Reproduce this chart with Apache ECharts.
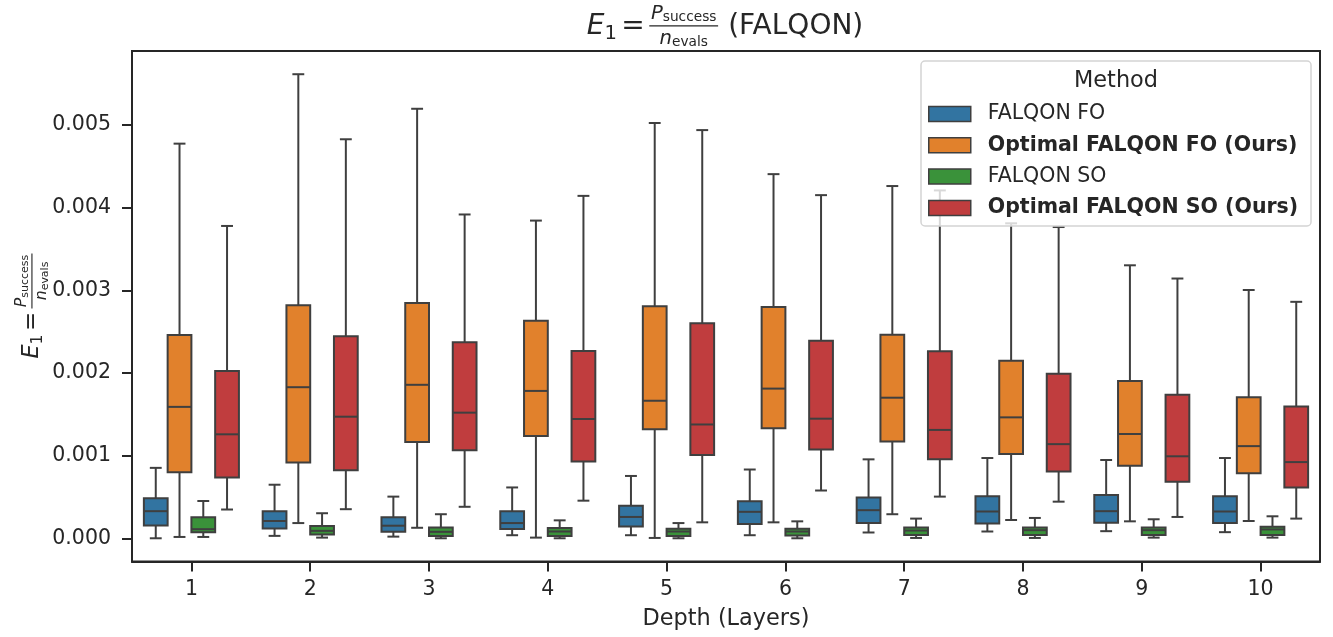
<!DOCTYPE html>
<html><head><meta charset="utf-8">
<script src="https://cdn.jsdelivr.net/npm/echarts@6/dist/echarts.min.js"></script>
<style>html,body{margin:0;padding:0;background:#fff}#c{width:1333px;height:637px}</style>
</head><body><div id="c"></div>
<script>
// ---------- data ----------
const depths = ['1','2','3','4','5','6','7','8','9','10'];
const methods = ['FALQON FO','Optimal FALQON FO (Ours)','FALQON SO','Optimal FALQON SO (Ours)'];
// each row: [min whisker, Q1, median, Q3, max whisker]
const falqonFO = [
  [0.000000,0.000156,0.000328,0.000484,0.000852],
  [0.000029,0.000119,0.000209,0.000328,0.000648],
  [0.000020,0.000078,0.000152,0.000254,0.000504],
  [0.000037,0.000111,0.000184,0.000328,0.000615],
  [0.000037,0.000143,0.000258,0.000393,0.000754],
  [0.000037,0.000172,0.000320,0.000447,0.000832],
  [0.000070,0.000184,0.000340,0.000492,0.000955],
  [0.000082,0.000180,0.000324,0.000508,0.000971],
  [0.000086,0.000189,0.000328,0.000525,0.000947],
  [0.000074,0.000184,0.000324,0.000508,0.000971]
];
const optimalFO = [
  [0.000016,0.000799,0.001590,0.002459,0.004775],
  [0.000184,0.000918,0.001828,0.002820,0.005615],
  [0.000127,0.001164,0.001857,0.002848,0.005197],
  [0.000008,0.001238,0.001783,0.002631,0.003844],
  [0.000004,0.001320,0.001664,0.002807,0.005025],
  [0.000193,0.001332,0.001811,0.002799,0.004406],
  [0.000291,0.001172,0.001701,0.002463,0.004262],
  [0.000221,0.001020,0.001463,0.002148,0.003811],
  [0.000205,0.000877,0.001262,0.001902,0.003303],
  [0.000209,0.000787,0.001115,0.001705,0.003004]
];
const falqonSO = [
  [0.000016,0.000074,0.000110,0.000254,0.000451],
  [0.000008,0.000045,0.000090,0.000148,0.000303],
  [0.000000,0.000029,0.000078,0.000131,0.000291],
  [0.000000,0.000029,0.000082,0.000123,0.000217],
  [0.000000,0.000029,0.000082,0.000115,0.000184],
  [0.000000,0.000033,0.000082,0.000115,0.000205],
  [0.000004,0.000041,0.000094,0.000131,0.000238],
  [0.000004,0.000041,0.000098,0.000131,0.000246],
  [0.000008,0.000041,0.000098,0.000131,0.000230],
  [0.000008,0.000041,0.000107,0.000139,0.000266]
];
const optimalSO = [
  [0.000348,0.000734,0.001258,0.002025,0.003779],
  [0.000352,0.000824,0.001471,0.002443,0.004828],
  [0.000381,0.001066,0.001520,0.002373,0.003918],
  [0.000455,0.000930,0.001443,0.002266,0.004143],
  [0.000193,0.001008,0.001377,0.002602,0.004939],
  [0.000578,0.001074,0.001447,0.002389,0.004152],
  [0.000504,0.000955,0.001311,0.002262,0.004209],
  [0.000443,0.000807,0.001139,0.001992,0.003766],
  [0.000258,0.000684,0.000992,0.001738,0.003143],
  [0.000238,0.000615,0.000922,0.001594,0.002861]
];
const yTicks = [0, 0.001, 0.002, 0.003, 0.004, 0.005];

// ---------- style ----------
const FONT = 'DejaVu Sans';
const TXT = '#262626';
const LINE = '#3f3f3f';
const colors = ['#3274a1','#e1812c','#3a923a','#c03d3e'];
const offsets = [-0.3,-0.1,0.1,0.3];
const Y_MIN = -0.000281, Y_MAX = 0.005896;

const mctx = document.createElement('canvas').getContext('2d');
function tw(t, size, italic){ mctx.font = (italic?'italic ':'') + size + 'px "' + FONT + '"'; return mctx.measureText(t).width; }
function txt(t, x, baseY, size, italic){
  return {type:'text', x:x, y: baseY - 0.346*size,
    style:{text:t, fontFamily:FONT, fontSize:size, fontStyle: italic?'italic':'normal', fill:TXT, align:'left', verticalAlign:'middle'}};
}
function buildFormula(fs, suffix){
  const els=[]; let x=0;
  els.push(txt('E', x, 0, fs, true)); x += tw('E', fs, true);
  const s1 = 0.7*fs;
  els.push(txt('1', x, 0.15*fs, s1, false)); x += tw('1', s1, false);
  x += 0.16*fs;
  els.push(txt('=', x, 0, fs, false)); x += tw('=', fs, false);
  x += 0.16*fs;
  const s2 = 0.7*fs, s3 = 0.49*fs;
  const nw = tw('P', s2, true) + tw('success', s3, false);
  const dw = tw('n', s2, true) + tw('evals', s3, false);
  const fw = Math.max(nw, dw) + 0.12*fs;
  const barY = -0.36*fs;
  els.push({type:'rect', x:x, y:barY-0.025*fs, shape:{x:0, y:0, width:fw, height:0.05*fs}, style:{fill:TXT}});
  let nx = x + (fw-nw)/2; const nb = -0.55*fs;
  els.push(txt('P', nx, nb, s2, true)); nx += tw('P', s2, true);
  els.push(txt('success', nx, nb+0.07*fs, s3, false));
  let dx = x + (fw-dw)/2; const db = 0.34*fs;
  els.push(txt('n', dx, db, s2, true)); dx += tw('n', s2, true);
  els.push(txt('evals', dx, db+0.07*fs, s3, false));
  x += fw;
  if (suffix){ x += 0.04*fs; els.push(txt(suffix, x, 0, fs, false)); x += tw(suffix, fs, false); }
  els.forEach(e => { e.x -= x/2; });
  return els;
}

function makeRender(offset, color){
  return function(params, api){
    const ci = api.value(0);
    const band = api.size([1,0])[0];
    const cx = api.coord([ci, 0])[0] + offset*band;
    const w = band*0.2;
    const y = [1,2,3,4,5].map(d => api.coord([ci, api.value(d)])[1]);
    const ls = {stroke:LINE, lineWidth:2};
    return {type:'group', children:[
      {type:'line', shape:{x1:cx,y1:y[1],x2:cx,y2:y[0]}, style:ls},
      {type:'line', shape:{x1:cx,y1:y[3],x2:cx,y2:y[4]}, style:ls},
      {type:'line', shape:{x1:cx-w/4,y1:y[0],x2:cx+w/4,y2:y[0]}, style:ls},
      {type:'line', shape:{x1:cx-w/4,y1:y[4],x2:cx+w/4,y2:y[4]}, style:ls},
      {type:'rect', shape:{x:cx-w/2,y:y[3],width:w,height:y[1]-y[3]}, style:{fill:color, stroke:LINE, lineWidth:2}},
      {type:'line', shape:{x1:cx-w/2,y1:y[2],x2:cx+w/2,y2:y[2]}, style:ls}
    ]};
  };
}

const seriesData = [falqonFO, optimalFO, falqonSO, optimalSO];
const chart = echarts.init(document.getElementById('c'), null, {renderer:'canvas'});
chart.setOption({
  animation:false,
  textStyle:{fontFamily:FONT},
  grid:{left:132, right:13, top:51, bottom:75.5, show:true, borderColor:TXT, borderWidth:2, backgroundColor:'transparent'},
  xAxis:{
    type:'category', data:depths, boundaryGap:true,
    axisLine:{show:true, onZero:false, lineStyle:{color:TXT, width:2}},
    axisTick:{show:true, alignWithLabel:true, length:10, lineStyle:{color:TXT, width:2}},
    axisLabel:{fontFamily:FONT, fontSize:20.5, color:TXT, margin:18},
    splitLine:{show:false},
    name:'Depth (Layers)', nameLocation:'middle', nameGap:47,
    nameTextStyle:{fontFamily:FONT, fontSize:22.4, color:TXT}
  },
  yAxis:{
    type:'value', min:Y_MIN, max:Y_MAX,
    axisLine:{show:true, onZero:false, lineStyle:{color:TXT, width:2}},
    axisTick:{show:true, length:10, lineStyle:{color:TXT, width:2}, customValues:yTicks},
    axisLabel:{fontFamily:FONT, fontSize:20.5, color:TXT, margin:21, customValues:yTicks, formatter:v => v.toFixed(3)},
    splitLine:{show:false}
  },
  legend:{
    orient:'vertical', left:928, top:103, padding:0, itemGap:9.3,
    itemWidth:42, itemHeight:15, icon:'rect', selectedMode:false, z:5,
    itemStyle:{borderColor:LINE, borderWidth:1.5},
    textStyle:{fontFamily:FONT, fontSize:20.5, color:TXT, lineHeight:22, padding:[0,0,0,12]},
    data: methods.map((m,i) => ({name:m, textStyle:{fontWeight: (i%2===1)?'bold':'normal'}}))
  },
  graphic:{elements:[
    {type:'group', x:725, y:36, children: buildFormula(28, ' (FALQON)')},
    {type:'group', x:40, y:306, rotation:Math.PI/2, children: buildFormula(22.4, '')},
    {type:'rect', z:3, shape:{x:921, y:61, width:390, height:165, r:4},
      style:{fill:'rgba(255,255,255,0.8)', stroke:'#d4d4d4', lineWidth:1.5}},
    {type:'text', z:6, x:1116, y:81, style:{text:'Method', fontFamily:FONT, fontSize:22.4, fill:TXT, align:'center', verticalAlign:'middle'}}
  ]},
  series: seriesData.map((arr,k) => ({
    type:'custom', name:methods[k], z:2,
    itemStyle:{color:colors[k]},
    encode:{x:0, y:[1,2,3,4,5]},
    data: arr.map((v,i) => [i].concat(v)),
    renderItem: makeRender(offsets[k], colors[k])
  }))
});
</script>
</body></html>
